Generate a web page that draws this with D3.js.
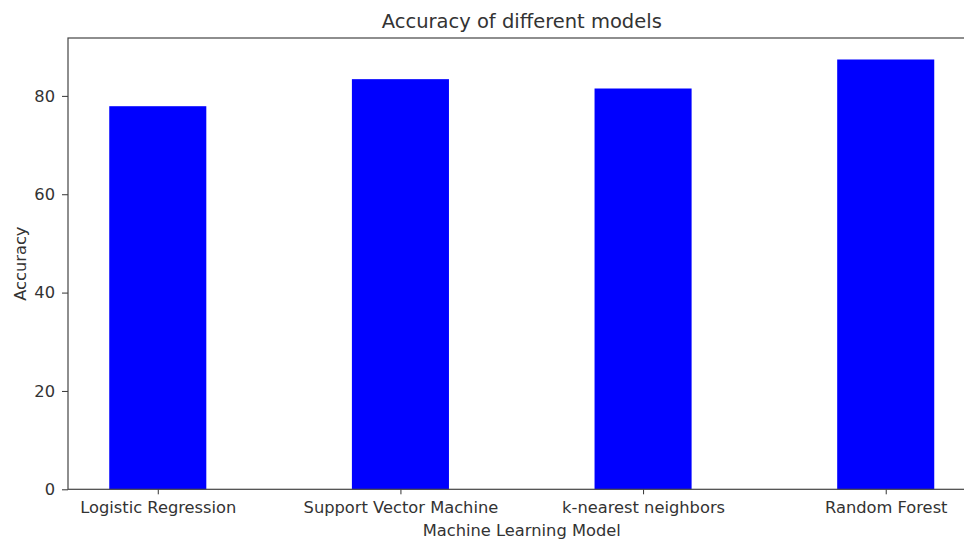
<!DOCTYPE html>
<html>
<head>
<meta charset="utf-8">
<script src="https://d3js.org/d3.v7.min.js"></script>
<style>
body { margin: 0; background: #fff; }
text { font-family: "DejaVu Sans", sans-serif; fill: #333; }
</style>
</head>
<body>
<script>
// data
const models = ["Logistic Regression", "Support Vector Machine", "k-nearest neighbors", "Random Forest"];
const accuracy = [77.9, 83.4, 81.5, 87.4];
const yTicks = [0, 20, 40, 60, 80];

const width = 964, height = 541;
// axes box (right spine falls just outside the picture)
const mLeft = 68, mRight = 975.5, mTop = 38, mBottom = 489.3;
const tickFont = "16.3px";

const svg = d3.select("body").append("svg")
  .attr("width", width).attr("height", height);

// matplotlib style: bar width 0.4, 5% margins on each axis
const x = d3.scaleLinear().domain([-0.37, 3.37]).range([mLeft, mRight]);
const y = d3.scaleLinear().domain([0, 87.4 * 1.05]).range([mBottom, mTop]);

svg.selectAll("rect.bar")
  .data(accuracy)
  .enter().append("rect")
  .attr("class", "bar")
  .attr("x", (d, i) => x(i - 0.2))
  .attr("width", (d, i) => x(i + 0.2) - x(i - 0.2))
  .attr("y", d => y(d))
  .attr("height", d => y(0) - y(d))
  .attr("fill", "#0000ff");

// x axis
const xAxis = svg.append("g")
  .attr("transform", `translate(0,${mBottom})`)
  .call(d3.axisBottom(x).tickValues(d3.range(models.length)).tickFormat(i => models[i]).tickSize(5).tickPadding(7));
xAxis.selectAll("text").style("font-size", tickFont);

// y axis
const yAxis = svg.append("g")
  .attr("transform", `translate(${mLeft},0)`)
  .call(d3.axisLeft(y).tickValues(yTicks).tickSize(6).tickPadding(7));
yAxis.selectAll("text").style("font-size", tickFont);

[xAxis, yAxis].forEach(g => {
  g.select(".domain").remove();
  g.selectAll("line").attr("stroke", "#333");
});

// spines
svg.append("rect")
  .attr("x", mLeft).attr("y", mTop)
  .attr("width", mRight - mLeft).attr("height", mBottom - mTop)
  .attr("fill", "none").attr("stroke", "#444").attr("stroke-width", 1.2);

// title and labels
svg.append("text")
  .attr("x", (mLeft + mRight) / 2).attr("y", 27.5)
  .attr("text-anchor", "middle").style("font-size", "19.5px")
  .text("Accuracy of different models");

svg.append("text")
  .attr("x", (mLeft + mRight) / 2).attr("y", 536)
  .attr("text-anchor", "middle").style("font-size", tickFont)
  .text("Machine Learning Model");

svg.append("text")
  .attr("transform", `translate(25.5,${(mTop + mBottom) / 2}) rotate(-90)`)
  .attr("text-anchor", "middle").style("font-size", tickFont)
  .text("Accuracy");
</script>
</body>
</html>
